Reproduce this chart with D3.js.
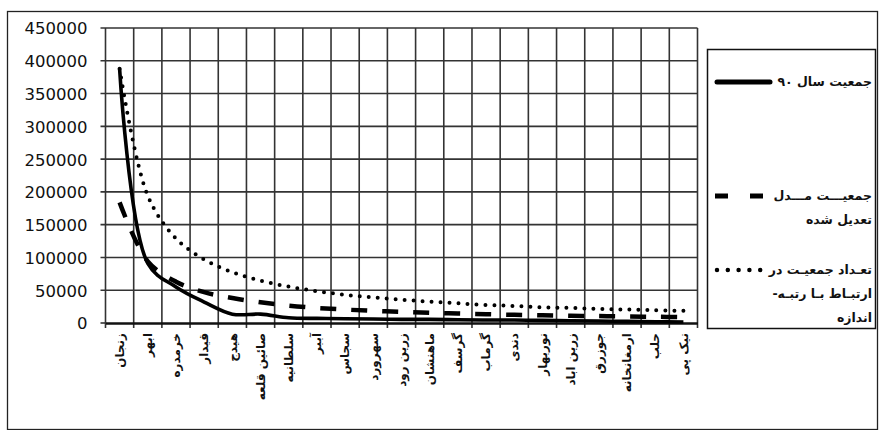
<!DOCTYPE html>
<html>
<head>
<meta charset="utf-8">
<script src="https://cdn.jsdelivr.net/npm/d3@7"></script>
<style>
  body { margin: 0; background: #fff; }
</style>
</head>
<body>
<div id="chart"></div>
<script>
// city names, rank order
var categories = ["زنجان", "ابهر", "خرمدره", "قیدار", "هیدج", "صائین قلعه", "سلطانیه", "آببر", "سجاس", "سهرورد",
  "زرین رود", "ماهنشان", "گرسف", "گرماب", "دندی", "نوربهار", "زرین اباد", "جوزرق", "ارمغانخانه", "حلب", "نیک پی"];

// جمعیت سال ۹۰
var pop90 = [388000, 91000, 55000, 32000, 13500, 13500, 8000, 7000, 6500, 6000, 5500,
  5500, 5000, 4500, 4500, 4000, 3500, 3000, 2500, 2000, 1500];

// جمعیت مدل تعدیل شده
var adjusted = [184000, 94000, 63000, 47000, 38000, 31500, 26500, 23000, 20500, 18500, 17000,
  15500, 14500, 13500, 12500, 11800, 11000, 10500, 10000, 9500, 9000];

// تعداد جمعیت در ارتباط با رتبه-اندازه
var rankSize = [388000, 194000, 129000, 97000, 77500, 64500, 55500, 48500, 43000, 39000, 35500,
  32500, 30000, 27500, 26000, 24000, 23000, 21500, 20500, 19500, 18500];

var yTicks = [0, 50000, 100000, 150000, 200000, 250000, 300000, 350000, 400000, 450000];

var W = 879, H = 430;
const plot = { left: 105.5, right: 697.5, top: 28, bottom: 323 };

const svg = d3.select("#chart")
  .append("svg")
  .attr("width", W)
  .attr("height", H);

// outer frame
svg.append("rect")
  .attr("x", 7.5).attr("y", 11.5)
  .attr("width", 870).attr("height", 418)
  .attr("fill", "#fff")
  .attr("stroke", "#222")
  .attr("stroke-width", 1.3);

const x = d3.scaleBand()
  .domain(categories)
  .range([plot.left, plot.right])
  .paddingInner(0).paddingOuter(0);

const y = d3.scaleLinear()
  .domain([0, 450000])
  .range([plot.bottom, plot.top]);

const cx = function (d, i) { return x(categories[i]) + x.bandwidth() / 2; };

// vertical grid lines at category boundaries, left one is the y axis
var bounds = categories.map(function (c) { return x(c) + x.bandwidth(); });
var grid = svg.append("g")
  .attr("stroke", "#333")
  .attr("stroke-width", 1.6);

grid.selectAll("line.v")
  .data([plot.left].concat(bounds))
  .join("line")
  .attr("class", "v")
  .attr("x1", function (d) { return d; })
  .attr("x2", function (d) { return d; })
  .attr("y1", plot.top)
  .attr("y2", plot.bottom + 5);

// horizontal grid lines, starting with a small tick left of the axis
grid.selectAll("line.h")
  .data(yTicks)
  .join("line")
  .attr("class", "h")
  .attr("x1", plot.left - 5)
  .attr("x2", function (d) { return d === 0 ? plot.left : plot.right; })
  .attr("y1", function (d) { return y(d); })
  .attr("y2", function (d) { return y(d); });

// y axis labels
svg.append("g")
  .attr("transform", `translate(${plot.left},0)`)
  .call(d3.axisLeft(y).tickValues(yTicks).tickSize(0).tickSizeOuter(0)
    .tickFormat(function (d) { return d; }))
  .call(function (g) {
    g.select(".domain").remove();
    g.selectAll(".tick text")
      .attr("x", -18)
      .attr("dy", "0.36em")
      .attr("fill", "#111")
      .style("font-family", "'DejaVu Sans', sans-serif")
      .style("font-size", "16.5px");
  });

// x axis
svg.append("g")
  .attr("transform", `translate(0,${plot.bottom})`)
  .call(d3.axisBottom(x).tickSize(0).tickSizeOuter(0))
  .call(function (g) {
    g.select(".domain").attr("stroke", "#111").attr("stroke-width", 2.6);
    g.selectAll(".tick text")
      .attr("transform", "rotate(-90)")
      .attr("x", -10)
      .attr("y", 0)
      .attr("dy", "0.35em")
      .attr("text-anchor", "end")
      .attr("fill", "#111")
      .style("font-family", "'DejaVu Sans', sans-serif")
      .style("font-weight", "bold")
      .style("font-size", "12px");
  });

const line = d3.line()
  .x(cx)
  .y(function (d) { return y(d); })
  .curve(d3.curveCatmullRom.alpha(0.5));

// dotted: rank-size
svg.append("path")
  .datum(rankSize)
  .attr("d", line)
  .attr("fill", "none")
  .attr("stroke", "#000")
  .attr("stroke-width", 4)
  .attr("stroke-linecap", "round")
  .attr("stroke-dasharray", "0,9");

// dashed: adjusted model
svg.append("path")
  .datum(adjusted)
  .attr("d", line)
  .attr("fill", "none")
  .attr("stroke", "#000")
  .attr("stroke-width", 4.5)
  .attr("stroke-dasharray", "16,15");

// solid: 1390 population
svg.append("path")
  .datum(pop90)
  .attr("d", line)
  .attr("fill", "none")
  .attr("stroke", "#000")
  .attr("stroke-width", 3.6)
  .attr("stroke-linejoin", "round");

// legend
var legend = svg.append("g");
legend.append("rect")
  .attr("x", 707.5).attr("y", 49.5)
  .attr("width", 168).attr("height", 279)
  .attr("fill", "#fff")
  .attr("stroke", "#111")
  .attr("stroke-width", 1.5);

var legendItems = [
  { y: 82, dash: null, width: 5, cap: "round", lines: ["جمعیت  سال ۹۰"] },
  { y: 196, dash: "13,22", width: 5, cap: "butt", lines: ["جمعیـــت مـــدل", "تعدیل شده"] },
  { y: 270, dash: "0,10.8", width: 4.5, cap: "round", lines: ["تعـداد جمعیـت در", "ارتبـاط بـا رتبـه-", "اندازه"] }
];

legendItems.forEach(function (it) {
  legend.append("line")
    .attr("x1", it.cap == "round" ? 717 : 715)
    .attr("x2", 770)
    .attr("y1", it.y).attr("y2", it.y)
    .attr("stroke", "#000")
    .attr("stroke-width", it.width)
    .attr("stroke-linecap", it.cap)
    .attr("stroke-dasharray", it.dash);
  it.lines.forEach(function (t, j) {
    legend.append("text")
      .attr("x", 872)
      .attr("y", it.y + j * 24)
      .attr("dy", "0.35em")
      .attr("direction", "rtl")
      .attr("text-anchor", "start")
      .attr("fill", "#111")
      .style("font-family", "'DejaVu Sans', sans-serif")
      .style("font-weight", "bold")
      .style("font-size", "12.5px")
      .text(t);
  });
});
</script>
</body>
</html>
